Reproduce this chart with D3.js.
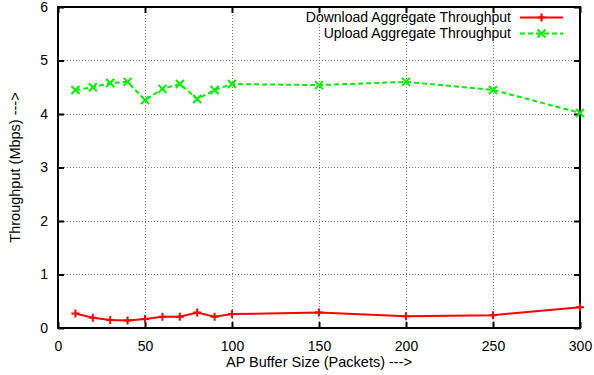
<!DOCTYPE html>
<html>
<head>
<meta charset="utf-8">
<script src="https://cdn.jsdelivr.net/npm/d3@7"></script>
<style>
  html, body { margin: 0; padding: 0; background: #fff; }
  svg { display: block; font-family: "Liberation Sans", Arial, Helvetica, sans-serif; }
</style>
</head>
<body>
<svg id="chart" width="594" height="375"></svg>
<script>
// Buffer sizes (packets) on the x axis
const bufferSizes = [10, 20, 30, 40, 50, 60, 70, 80, 90, 100, 150, 200, 250, 300];
// Aggregate throughput (Mbps)
const downloadThroughput = [0.27, 0.19, 0.15, 0.14, 0.17, 0.21, 0.21, 0.29, 0.21, 0.26, 0.29, 0.22, 0.24, 0.39];
const uploadThroughput = [4.45, 4.50, 4.58, 4.60, 4.26, 4.47, 4.56, 4.28, 4.45, 4.56, 4.54, 4.60, 4.45, 4.02];
const xTicks = [0, 50, 100, 150, 200, 250, 300];
const yTicks = [0, 1, 2, 3, 4, 5, 6];
const seriesNames = ["Download Aggregate Throughput", "Upload Aggregate Throughput"];

const svg = d3.select("#chart");
const plotL = 58, plotR = 580, plotT = 7, plotB = 328;

const x = d3.scaleLinear().domain([0, 300]).range([plotL, plotR]);
const y = d3.scaleLinear().domain([0, 6]).range([plotB, plotT]);

// grid
const grid = svg.append("g").attr("stroke", "#777").attr("stroke-width", 1).attr("stroke-dasharray", "1,2");
xTicks.filter(d => d > 0 && d < 300).forEach(d => {
  grid.append("line").attr("x1", x(d)).attr("x2", x(d)).attr("y1", plotB).attr("y2", plotT).attr("shape-rendering", "crispEdges");
});
yTicks.filter(d => d > 0 && d < 6).forEach(d => {
  grid.append("line").attr("y1", y(d)).attr("y2", y(d)).attr("x1", plotL).attr("x2", plotR).attr("shape-rendering", "crispEdges");
});

// axes with inward ticks on all sides
const tickLen = 6;
const fmt = d3.format("d");
const axB = svg.append("g").attr("transform", `translate(0,${plotB})`)
  .call(d3.axisBottom(x).tickValues(xTicks).tickFormat(fmt).tickSizeInner(-tickLen).tickSizeOuter(0).tickPadding(13));
const axT = svg.append("g").attr("transform", `translate(0,${plotT})`)
  .call(d3.axisTop(x).tickValues(xTicks).tickSizeInner(-tickLen).tickSizeOuter(0).tickFormat(""));
const axL = svg.append("g").attr("transform", `translate(${plotL},0)`)
  .call(d3.axisLeft(y).tickValues(yTicks).tickFormat(fmt).tickSizeInner(-tickLen).tickSizeOuter(0).tickPadding(10));
const axR = svg.append("g").attr("transform", `translate(${plotR},0)`)
  .call(d3.axisRight(y).tickValues(yTicks).tickSizeInner(-tickLen).tickSizeOuter(0).tickFormat(""));
[axB, axT, axL, axR].forEach(a => {
  a.select(".domain").remove();
  a.selectAll(".tick line").attr("stroke", "#000").attr("stroke-width", 2);
  a.selectAll("text").attr("font-size", 14).attr("fill", "#000")
    .attr("font-family", "Liberation Sans, Arial, sans-serif");
});

// frame
svg.append("rect").attr("x", plotL).attr("y", plotT).attr("width", plotR - plotL).attr("height", plotB - plotT)
  .attr("fill", "none").attr("stroke", "#000").attr("stroke-width", 2);

// axis titles
svg.append("text").attr("x", 319).attr("y", 367).attr("text-anchor", "middle")
  .attr("font-size", 14.5).text("AP Buffer Size (Packets) --->");
svg.append("text").attr("transform", `translate(20,${(plotT + plotB) / 2}) rotate(-90)`)
  .attr("text-anchor", "middle").attr("font-size", 14.5).text("Throughput (Mbps) --->");

const line = d3.line().x(d => x(d[0])).y(d => y(d[1]));
const downPts = bufferSizes.map((b, i) => [b, downloadThroughput[i]]);
const upPts = bufferSizes.map((b, i) => [b, uploadThroughput[i]]);

const red = "#ff0000", green = "#00ee00";

function plusMark(g, cx, cy, col) {
  g.append("path").attr("d", `M${cx - 4},${cy}H${cx + 4}M${cx},${cy - 4}V${cy + 4}`)
    .attr("stroke", col).attr("stroke-width", 2).attr("fill", "none");
}
function crossMark(g, cx, cy, col) {
  g.append("path").attr("d", `M${cx - 4},${cy - 4}L${cx + 4},${cy + 4}M${cx - 4},${cy + 4}L${cx + 4},${cy - 4}`)
    .attr("stroke", col).attr("stroke-width", 2).attr("fill", "none");
}

// download series
svg.append("path").datum(downPts).attr("d", line).attr("fill", "none")
  .attr("stroke", red).attr("stroke-width", 2);
const gd = svg.append("g");
downPts.forEach(p => plusMark(gd, x(p[0]), y(p[1]), red));

// upload series
svg.append("path").datum(upPts).attr("d", line).attr("fill", "none")
  .attr("stroke", green).attr("stroke-width", 2).attr("stroke-dasharray", "5,3");
const gu = svg.append("g");
upPts.forEach(p => crossMark(gu, x(p[0]), y(p[1]), green));

// legend
const legX = 511, legY = [17.5, 33.5];
seriesNames.forEach((name, i) => {
  svg.append("text").attr("x", legX).attr("y", legY[i]).attr("dy", "0.35em")
    .attr("text-anchor", "end").attr("font-size", 14).text(name);
  const col = i === 0 ? red : green;
  svg.append("line").attr("x1", 520).attr("x2", 563).attr("y1", legY[i]).attr("y2", legY[i])
    .attr("stroke", col).attr("stroke-width", 2).attr("stroke-dasharray", i === 0 ? null : "5,3");
  if (i === 0) plusMark(svg, 541.5, legY[i], col); else crossMark(svg, 541.5, legY[i], col);
});
</script>
</body>
</html>
